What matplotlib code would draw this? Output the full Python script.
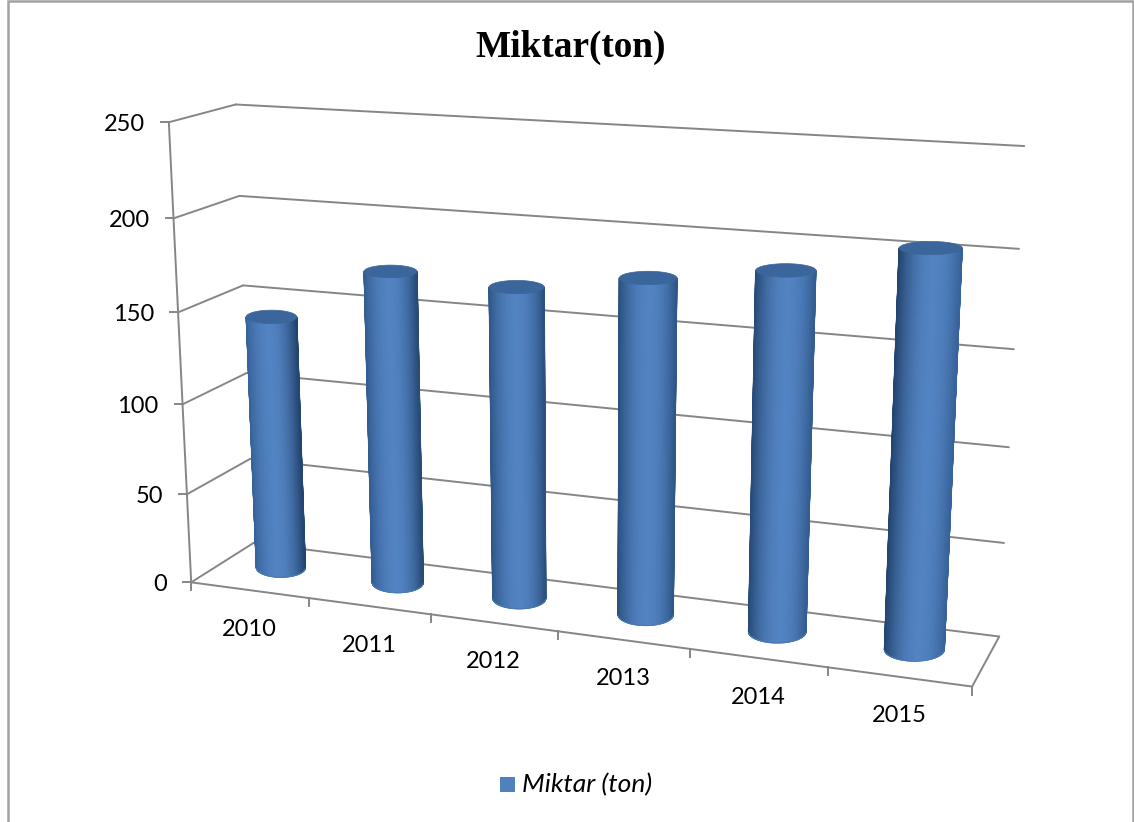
import numpy as np
import matplotlib
matplotlib.use("Agg")
import matplotlib.pyplot as plt
from matplotlib.colors import to_rgb, ListedColormap
from matplotlib.patches import Rectangle

# ---- data
years = ["2010", "2011", "2012", "2013", "2014", "2015"]
values = [142, 172, 169, 179, 188, 204]
y_ticks = [0, 50, 100, 150, 200, 250]
title = "Miktar(ton)"
legend_label = "Miktar (ton)"

# ---- camera calibration: (category pos, value, depth) -> pixel
calib = [
    ((0, 0, 0), (191.7, 582)), ((0, 250, 0), (168.5, 122.7)),
    ((0, 200, 0), (173.5, 218)), ((0, 150, 0), (178, 312)),
    ((0, 100, 0), (182.5, 403)), ((0, 50, 0), (187, 494)),
    ((0, 250, 1), (236, 104.7)), ((0, 200, 1), (239.5, 196)),
    ((0, 150, 1), (242.7, 286)), ((0, 0, 1), (253, 543)),
    ((6, 0, 1), (999.3, 636)), ((6, 50, 1), (1004, 542)),
    ((6, 100, 1), (1009, 447)), ((6, 150, 1), (1014, 350)),
    ((6, 200, 1), (1019.3, 249)), ((6, 250, 1), (1024, 145.7)),
    ((6, 0, 0), (971.7, 685.7)), ((1, 0, 0), (309, 598)),
    ((2, 0, 0), (431, 615)), ((3, 0, 0), (557, 632)),
    ((4, 0, 0), (690, 650)), ((5, 0, 0), (828, 668)),
]
A = []
for (X, Y, Z), (u, v) in calib:
    P = [X / 6, Y / 250, Z, 1]
    A.append(P + [0, 0, 0, 0] + [-u / 1000 * c for c in P])
    A.append([0, 0, 0, 0] + P + [-v / 1000 * c for c in P])
CAM = np.linalg.svd(np.array(A))[2][-1].reshape(3, 4)


def proj(x, y, z):
    x, y, z = np.broadcast_arrays(np.asarray(x, float), np.asarray(y, float), np.asarray(z, float))
    P = np.stack([x / 6, y / 250, z, np.ones_like(x)])
    q = CAM @ P.reshape(4, -1)
    return (q[0] / q[2] * 1000).reshape(x.shape), (q[1] / q[2] * 1000).reshape(x.shape)


GRAY = "#868686"
LW = 1.4
FS = 17
fig = plt.figure(figsize=(11.34, 8.22), dpi=100, facecolor="white")
ax = fig.add_axes([0, 0, 1, 1])
ax.set_xlim(0, 1134)
ax.set_ylim(822, 0)
ax.axis("off")


def line(p0, p1):
    x0, y0 = proj(*p0)
    x1, y1 = proj(*p1)
    ax.plot([x0, x1], [y0, y1], color=GRAY, lw=LW, solid_capstyle="round")


def level_ellipse(cx, val, cd, theta):
    """Screen-level ellipse around the projected disc centre."""
    x0, y0 = proj(cx, val, cd)
    xl, _ = proj(cx - RX, val, cd)
    xr, _ = proj(cx + RX, val, cd)
    _, yf = proj(cx, val, cd - RD)
    _, yk = proj(cx, val, cd + RD)
    return x0 + (xr - xl) / 2 * np.cos(theta), y0 + (yf - yk) / 2 * (-np.sin(theta))


# chart border
ax.plot([8, 8, 1133, 1133], [822, 1.5, 1.5, 822], color="#a2a2a2", lw=1.8, solid_joinstyle="miter")

# walls and gridlines
for v in y_ticks:
    line((0, v, 0), (0, v, 1))
    line((0, v, 1), (6, v, 1))
    x0, y0 = proj(0, v, 0)
    ax.plot([x0 - 8, x0], [y0, y0], color=GRAY, lw=LW)
    ax.text(x0 - 24, y0 + 2, str(v), ha="right", va="center", fontsize=FS, family="Lato", color="black")
line((0, 0, 0), (0, 250, 0))
line((0, 0, 0), (6, 0, 0))
line((6, 0, 0), (6, 0, 1))
for i in range(7):
    x0, y0 = proj(i, 0, 0)
    ax.plot([x0, x0], [y0, y0 + 8], color=GRAY, lw=LW)
for i, lab in enumerate(years):
    x0, y0 = proj(i + 0.5, 0, 0)
    ax.text(x0, y0 + 39, lab, ha="center", va="center", fontsize=FS, family="Lato", color="black")

# cylinders
LIGHT = np.array(to_rgb("#5283c2"))
DARK_A = np.array(to_rgb("#38639a"))
DARK_B = np.array(to_rgb("#24456f"))
RX, RD = 0.214, 0.24
N = 90
order = np.linspace(-np.pi, 0, N + 1)
for i, val in enumerate(values):
    cx, cd = i + 0.486, 0.54
    f = i / 5
    hi = -0.08 + 0.2 * f
    dleft = DARK_A * (1 - f) + DARK_B * f
    dright = DARK_B * (1 - f) + DARK_A * f
    colours = []
    for c in np.linspace(-1, 1, 256):
        t = abs(c - hi) / (1 - hi if c > hi else 1 + hi)
        t = min(1, t) ** 2.0
        colours.append(LIGHT * (1 - t) + (dright if c > hi else dleft) * t)
    cmap = ListedColormap(colours)
    xb, yb = level_ellipse(cx, 0, cd, order)
    xt, yt = level_ellipse(cx, val, cd, order)
    X = np.vstack([xb, xt])
    Y = np.vstack([yb, yt])
    C = np.vstack([np.cos(order), np.cos(order)])
    ax.pcolormesh(X, Y, C, shading="gouraud", cmap=cmap, vmin=-1, vmax=1, zorder=5 + i)
    # antialiased silhouette over the mesh edges
    ax.plot(xb, yb, color="#4a7ab5", lw=0.8, zorder=5 + i)
    ax.plot([xb[0], xt[0]], [yb[0], yt[0]], color=tuple(dleft), lw=0.9, zorder=5 + i)
    ax.plot([xb[-1], xt[-1]], [yb[-1], yt[-1]], color=tuple(dright), lw=0.9, zorder=5 + i)
    th = np.linspace(0, 2 * np.pi, 120)
    xc, yc = level_ellipse(cx, val, cd, th)
    ax.fill(xc, yc, color="#3b669b", lw=0.5, zorder=5 + i + 0.5)

# title
ax.text(571, 47, title, ha="center", va="center", fontsize=26.8, fontweight="bold",
        family="Liberation Serif", color="black")
# legend
ax.add_patch(Rectangle((500, 777), 15, 15, facecolor="#4f81bd", edgecolor="none"))
ax.text(522, 785, legend_label, ha="left", va="center", fontsize=19, style="italic",
        family="Lato", color="black")

fig.savefig("out.png", dpi=100, facecolor="white")
